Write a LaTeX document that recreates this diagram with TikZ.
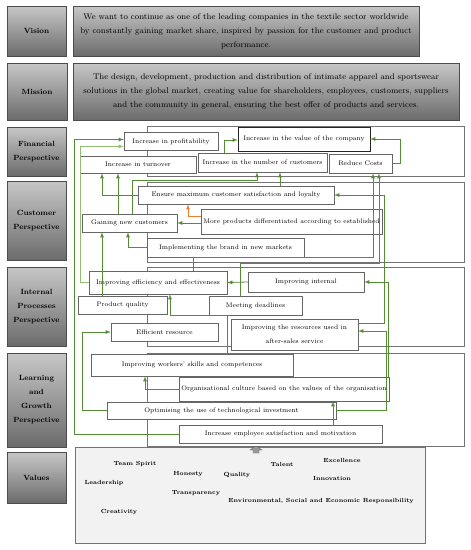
\documentclass[tikz,border=0pt]{standalone}
\usepackage{tikz}
\usetikzlibrary{shapes,arrows,positioning,calc}
\usepackage{xcolor}
\definecolor{linkgreen}{RGB}{84,141,52}
\definecolor{lightgreen}{RGB}{145,192,115}
\definecolor{linkorange}{RGB}{237,125,49}
\tikzset{
    heading/.style={rectangle, draw=black!70, top color=black!22, bottom color=black!58, inner sep=0pt, align=center, font=\fontsize{7.5}{14}\selectfont\bfseries},
    statement/.style={rectangle, draw=black!70, top color=black!22, bottom color=black!58, inner sep=0pt, align=center, font=\fontsize{8.3}{14}\selectfont},
    zone/.style={rectangle, draw=black!55, fill=white, inner sep=0pt},
    objective/.style={rectangle, draw=black!60, fill=white, inner sep=0pt, align=center, font=\fontsize{6.6}{9}\selectfont},
    valueword/.style={font=\fontsize{5.9}{8}\selectfont\bfseries, inner sep=0pt},
    link/.style={line width=0.8pt, -latex, color=linkgreen},
    lightlink/.style={line width=0.8pt, -latex, color=lightgreen},
    orangelink/.style={line width=0.8pt, -latex, color=linkorange}
}

\begin{document}
\begin{tikzpicture}[x=1pt, y=-1pt]
    \useasboundingbox (0,0) rectangle (471,550);

    % Vision and mission
    \node[heading, minimum width=59, minimum height=50] (visionlab) at (36.5,31) {Vision};
    \node[statement, minimum width=346, minimum height=50] (vision) at (246,31) {We want to continue as one of the leading companies in the textile sector worldwide\\by constantly gaining market share, inspired by passion for the customer and product\\performance.};
    \node[heading, minimum width=60, minimum height=57] (missionlab) at (37,91.5) {Mission};
    \node[statement, minimum width=386, minimum height=57] (mission) at (266,91.5) {The design, development, production and distribution of intimate apparel and sportswear\\solutions in the global market, creating value for shareholders, employees, customers, suppliers\\and the community in general, ensuring the best offer of products and services.};

    % Perspective headings
    \node[heading, minimum width=59, minimum height=49] (finlab) at (36.5,151.5) {Financial\\Perspective};
    \node[heading, minimum width=59, minimum height=79] (cuslab) at (36.5,220.5) {Customer\\Perspective};
    \node[heading, minimum width=59, minimum height=79] (intlab) at (36.5,306.5) {Internal\\Processes\\Perspective};
    \node[heading, minimum width=59, minimum height=94] (lrnlab) at (36.5,400) {Learning\\and\\Growth\\Perspective};
    \node[heading, minimum width=59, minimum height=51] (vallab) at (36.5,477.5) {Values};

    % Perspective zones
    \node[zone, minimum width=317, minimum height=50] (finzone) at (305.5,151) {};
    \node[zone, minimum width=317, minimum height=80] (cuszone) at (305.5,222) {};
    \node[zone, minimum width=317, minimum height=79] (intzone) at (305.5,306.5) {};
    \node[zone, minimum width=317, minimum height=93] (lrnzone) at (305.5,399.5) {};

    % Financial objectives
    \node[objective, minimum width=94, minimum height=18] (prof) at (171,141.5) {Increase in profitability};
    \node[objective, draw=black!85, minimum width=132, minimum height=24] (valco) at (304,139) {Increase in the value of the company};
    \node[objective, minimum width=116, minimum height=17] (turn) at (138,164.5) {Increase in turnover};
    \node[objective, minimum width=129, minimum height=19] (ncust) at (262.5,162.5) {Increase in the number of customers};
    \node[objective, minimum width=63, minimum height=19] (costs) at (360.5,163.5) {Reduce Costs};

    % Customer objectives
    \node[objective, minimum width=196, minimum height=18] (ensure) at (236,195) {Ensure maximum customer satisfaction and loyalty};
    \node[objective, minimum width=181, minimum height=25] (moreprod) at (291.5,221.5) {More products differentiated according to established};
    \node[objective, minimum width=95, minimum height=18] (gain) at (129.5,223) {Gaining new customers};
    \node[objective, minimum width=157, minimum height=19] (brand) at (225.5,247.5) {Implementing the brand in new markets};

    % Internal processes objectives
    \node[objective, minimum width=138, minimum height=23] (effic) at (158,282.5) {Improving efficiency and effectiveness};
    \node[objective, minimum width=116, minimum height=20] (internal) at (306,282) {Improving internal};
    \node[objective, minimum width=89, minimum height=18] (quality) at (122.5,305) {Product quality};
    \node[objective, minimum width=93, minimum height=19] (deadl) at (255.5,305.5) {Meeting deadlines};
    \node[objective, minimum width=107, minimum height=18] (effres) at (164.5,332) {Efficient resource};
    \node[objective, font=\fontsize{6.6}{14}\selectfont, minimum width=127, minimum height=31] (aftersales) at (294.5,334.5) {Improving the resources used in\\after-sales service};

    % Learning and growth objectives
    \node[objective, minimum width=202, minimum height=22] (skills) at (192,365) {Improving workers' skills and competences};
    \node[objective, minimum width=210, minimum height=24] (culture) at (284,389) {Organisational culture based on the values of the organisation};
    \node[objective, minimum width=229, minimum height=17] (techinv) at (221.5,410.5) {Optimising the use of technological investment};
    \node[objective, minimum width=203, minimum height=18] (employee) at (280.5,434) {Increase employee satisfaction and motivation};

    % Values
    \node[rectangle, draw=black!55, fill=black!5, minimum width=350, minimum height=96, inner sep=0pt] (values) at (250,495) {};
    \node[valueword] (team) at (135,464) {Team Spirit};
    \node[valueword] (honesty) at (188,474) {Honesty};
    \node[valueword] (qualval) at (237,475) {Quality};
    \node[valueword] (talent) at (282,464) {Talent};
    \node[valueword] (excel) at (342,460) {Excellence};
    \node[valueword] (leader) at (104,483) {Leadership};
    \node[valueword] (innov) at (332,478) {Innovation};
    \node[valueword] (transp) at (196,493) {Transparency};
    \node[valueword] (envir) at (321,501) {Environmental, Social and Economic Responsibility};
    \node[valueword] (creat) at (119,512) {Creativity};
    \filldraw[draw=black!60, fill=black!40] (256,446) -- (262,450) -- (259,450) -- (259,453) -- (253,453) -- (253,450) -- (250,450) -- cycle;

    % Links into the financial perspective
    \draw[link] (employee.west) -- ++(-104,0) |- ([yshift=2pt]prof.west);
    \draw[lightlink] (effic.west) -- ++(-8,0) |- ([yshift=-5pt]prof.west);
    \draw[link] (ensure.west) -| (102,0 |- turn.south);
    \draw[link] (118,0 |- gain.north) -- (118,0 |- turn.south);
    \draw[link] (132,0 |- gain.north) |- (257,180) -- (257,0 |- ncust.south);
    \draw[link] (280,0 |- ensure.north) -- (280,0 |- ncust.south);
    \draw[link] (224,0 |- ncust.north) |- ([yshift=-1pt]valco.west);
    \draw[link] (costs.east) -- ++(8,0) |- (valco.east);
    \draw[link] (193,0 |- effic.north) |- (373,257) -- (373,0 |- costs.south);
    \draw[link] (240,0 |- deadl.north) |- (379,263) -- (379,0 |- costs.south);

    % Links into the customer perspective
    \draw[orangelink] ([yshift=5.5pt]moreprod.west) -| (188,0 |- ensure.south);
    \draw[link] (moreprod.west |- gain.east) -- (gain.east);
    \draw[link] (brand.west) -| (128,0 |- gain.south);
    \draw[link] (102,0 |- quality.north) -- (102,0 |- gain.south);
    \draw[link] ([yshift=11.5pt]aftersales.east) -- ++(26,0) |- (ensure.east);

    % Links into the internal processes perspective
    \draw[link] (internal.west) -- (effic.east);
    \draw[link] (techinv.west) -- ++(-24,0) |- (effres.west);
    \draw[link] (techinv.east) -- ++(50,0) |- ([yshift=3.5pt]aftersales.east);
    \draw[link] (388,0 |- culture.north) |- (internal.east);
    \draw[link] (227,0 |- skills.north) |- (170,315) -- (170,0 |- effic.south);

    % Links inside learning and growth
    \draw[link] (culture.west) -| (145,0 |- skills.south);
    \draw[link] (333,0 |- employee.north) -- (333,0 |- culture.south);
\end{tikzpicture}
\end{document}
